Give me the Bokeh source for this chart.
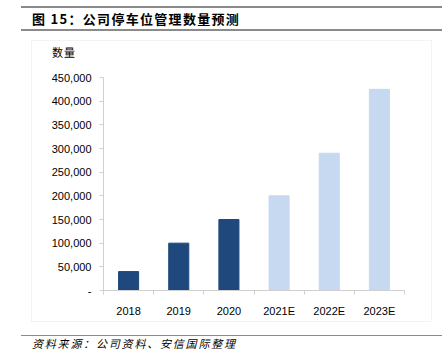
from bokeh.plotting import figure
from bokeh.models import FixedTicker, NumeralTickFormatter, ColumnDataSource, Range1d, Div
from bokeh.layouts import column
from bokeh.embed import file_html
from bokeh.resources import INLINE

categories = ["2018", "2019", "2020", "2021E", "2022E", "2023E"]
values = [40000, 100000, 150000, 200000, 290000, 425000]
bar_colors = ["#1F497D", "#1F497D", "#1F497D", "#C6D9F1", "#C6D9F1", "#C6D9F1"]
y_ticks = [0, 50000, 100000, 150000, 200000, 250000, 300000, 350000, 400000, 450000]

title_text = "图 15：公司停车位管理数量预测"
unit_text = "数量"
source_text = "资料来源：公司资料、安信国际整理"

W = 448
FIG_H, FOOT_H = 258, 38
FONT = "'Noto Sans CJK SC', sans-serif"
FAINT = "#f3f3f3"
RULE = "#8a8a8a"

title_div = Div(text=title_text, width=421, height=25, margin=(6, 6, 0, 21), styles={
    "box-sizing": "border-box", "border-top": f"2px solid {RULE}", "border-bottom": f"2px solid {RULE}",
    "padding-left": "11px", "font-family": FONT, "font-size": "13px", "font-weight": "bold",
    "line-height": "21px", "letter-spacing": "1.3px", "white-space": "nowrap", "color": "#000"})

unit_div = Div(text=unit_text, width=401, height=22, margin=(9, 0, 0, 31), styles={
    "box-sizing": "border-box", "border-top": f"1px solid {FAINT}", "border-left": f"1px solid {FAINT}",
    "border-right": f"1px solid {FAINT}", "padding-left": "20px", "padding-top": "4px",
    "font-family": FONT, "font-size": "11px", "line-height": "15px", "letter-spacing": "1px",
    "white-space": "nowrap", "color": "#000"})

p = figure(width=W, height=FIG_H, output_backend="svg", toolbar_location=None,
           x_range=Range1d(0, len(categories)), y_range=Range1d(0, 450000),
           min_border_left=103, min_border_right=44, min_border_top=15, min_border_bottom=30)
p.outline_line_color = None
p.grid.grid_line_color = None
p.background_fill_color = None
p.border_fill_color = None
p.styles = {"background": f"linear-gradient(to right, transparent 31px, {FAINT} 31px, {FAINT} 32px, "
                          f"transparent 32px, transparent 431px, {FAINT} 431px, {FAINT} 432px, transparent 432px)"}

src = ColumnDataSource(dict(x=[i + 0.5 for i in range(len(categories))], top=values, color=bar_colors))
p.vbar(x="x", top="top", width=0.4, color="color", source=src)

p.xaxis.ticker = FixedTicker(ticks=[i + 0.5 for i in range(len(categories))],
                             minor_ticks=list(range(len(categories) + 1)))
p.xaxis.major_label_overrides = {i + 0.5: c for i, c in enumerate(categories)}
p.xaxis.major_tick_line_color = None
p.xaxis.minor_tick_line_color = "#d0d0d0"
p.xaxis.minor_tick_out = 4
p.xaxis.minor_tick_in = 0
p.xaxis.axis_line_color = "#d0d0d0"
p.xaxis.major_label_text_font = "Liberation Sans"
p.xaxis.major_label_text_font_size = "11px"
p.xaxis.major_label_text_color = "#000000"
p.xaxis.major_label_standoff = 8

p.yaxis.ticker = FixedTicker(ticks=y_ticks)
p.yaxis.formatter = NumeralTickFormatter(format="0,0")
p.yaxis.major_label_overrides = {0: "-"}
p.yaxis.axis_line_color = "#d0d0d0"
p.yaxis.major_tick_line_color = "#d0d0d0"
p.yaxis.major_tick_out = 4
p.yaxis.major_tick_in = 0
p.yaxis.minor_tick_line_color = None
p.yaxis.major_label_text_font = "Liberation Sans"
p.yaxis.major_label_text_font_size = "11px"
p.yaxis.major_label_text_color = "#000000"
p.yaxis.major_label_standoff = 8

footer = Div(width=W, height=FOOT_H, margin=0, text=f"""
<div style="position:relative;width:{W}px;height:{FOOT_H}px;font-family:{FONT};color:#000;">
  <div style="position:absolute;left:31px;top:0px;width:400px;height:2px;border:1px solid {FAINT};border-top:none;"></div>
  <div style="position:absolute;left:21px;top:15px;width:421px;height:0;border-top:1.5px solid {RULE};"></div>
  <div style="position:absolute;left:32px;top:16px;font-size:11px;line-height:15px;letter-spacing:1.8px;font-style:italic;white-space:nowrap;">{source_text}</div>
</div>""")

layout = column(title_div, unit_div, p, footer, spacing=0)
open("out.html", "w").write(file_html(layout, INLINE))
